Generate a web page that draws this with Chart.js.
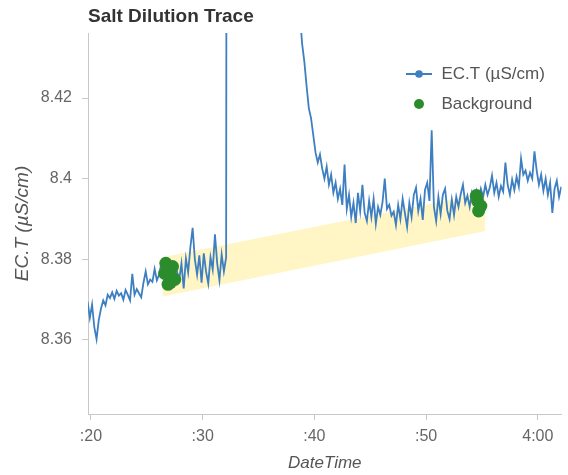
<!DOCTYPE html>
<html><head><meta charset="utf-8">
<script src="https://cdn.jsdelivr.net/npm/chart.js@4.4.1/dist/chart.umd.min.js"></script>
<style>html,body{margin:0;padding:0;background:#fff;}canvas{display:block;}</style>
</head><body>
<canvas id="c" width="568" height="475"></canvas>
<script>
const chartTitle = 'Salt Dilution Trace';
const xAxisTitle = 'DateTime';
const yAxisTitle = 'EC.T (µS/cm)';
const traceLabel = 'EC.T (µS/cm)';
const backgroundLabel = 'Background';

// trace sampled every 0.2 s starting at :19.7
const traceStart = 19.7;
const traceStep = 0.2;
const traceValues = [
  8.3695, 8.3655, 8.3688, 8.3632, 8.3602, 8.3650, 8.3678, 8.3698, 8.3686, 8.3712,
  8.3704, 8.3718, 8.3702, 8.3722, 8.3710, 8.3716, 8.3700, 8.3724, 8.3712, 8.3698,
  8.3764, 8.3712, 8.3726, 8.3716, 8.3706, 8.3742, 8.3770, 8.3738, 8.3750, 8.3744,
  8.3776, 8.3748, 8.3762, 8.3790, 8.3772, 8.3780, 8.3758, 8.3774, 8.3752, 8.3784,
  8.3770, 8.3750, 8.3790, 8.3728, 8.3802, 8.3768, 8.3830, 8.3878, 8.3800, 8.3762,
  8.3810, 8.3742, 8.3815, 8.3770, 8.3740, 8.3805, 8.3775, 8.3862, 8.3790, 8.3748,
  8.3812, 8.3770, 8.3805,
  8.95, 9.32, 9.55, 9.63, 9.60, 9.52, 9.42, 9.31, 9.20, 9.10,
  9.01, 8.93, 8.86, 8.80, 8.75, 8.71, 8.67, 8.64, 8.61, 8.59,
  8.57, 8.55, 8.535, 8.52, 8.51, 8.50, 8.492, 8.484, 8.476, 8.468,
  8.460, 8.452,
  8.4410, 8.4335, 8.4290, 8.4230, 8.4175, 8.4150, 8.4108, 8.4065, 8.4040, 8.4060,
  8.4025, 8.4000, 8.4030, 8.3985, 8.4010, 8.3965, 8.3990, 8.3950, 8.3975, 8.3935,
  8.4035,
  8.3925, 8.3960, 8.3905, 8.3940, 8.3890, 8.3965, 8.3920, 8.3985, 8.3915, 8.3895,
  8.3945, 8.3905, 8.3950, 8.3888, 8.3930, 8.3910, 8.3942, 8.4000, 8.3925, 8.3935,
  8.3908, 8.3918, 8.3885, 8.3935, 8.3900, 8.3950, 8.3915, 8.3880, 8.3940, 8.3905,
  8.3960, 8.3978, 8.3920, 8.3950, 8.3898, 8.3972, 8.3990, 8.3945, 8.4120, 8.3930,
  8.3895, 8.3955, 8.3912, 8.3960, 8.3975, 8.3920, 8.3900, 8.3948, 8.3910, 8.3955,
  8.3930, 8.3962, 8.3985, 8.3940, 8.3958, 8.3930, 8.3965, 8.3945, 8.3970, 8.3950,
  8.3975, 8.3955, 8.3985, 8.3960, 8.3978, 8.4008, 8.3965, 8.3990, 8.3955, 8.3982,
  8.3968, 8.4040, 8.3985, 8.3960, 8.3998, 8.3972, 8.4005, 8.3980, 8.4050, 8.4010,
  8.4020, 8.3995, 8.4015, 8.4000, 8.4068, 8.4020, 8.3985, 8.4010, 8.3970, 8.4000,
  8.3960, 8.3990, 8.3915, 8.3975, 8.3995, 8.3955, 8.3980
];

const bgTimes  = [26.6, 26.7, 26.9, 27.0, 27.1, 27.2, 27.3, 27.5, 54.5, 54.6, 54.7, 54.9];
const bgValues = [8.3765, 8.3790, 8.3738, 8.3775, 8.3742, 8.3758, 8.3782, 8.3750, 8.3958, 8.3945, 8.3920, 8.3932];

const bandTimes = [26.4, 55.3];
const bandUpper = [8.3805, 8.3965];
const bandLower = [8.3708, 8.3870];

const xTickValues = [20, 30, 40, 50, 60];
const xTickLabels = [':20', ':30', ':40', ':50', '4:00'];
const yTickValues = [8.36, 8.38, 8.40, 8.42];
const yTickLabels = ['8.36', '8.38', '8.4', '8.42'];

const BLUE = '#3d7fc1';
const GREEN = '#2b8c2b';
const YELLOW = 'rgba(255,236,150,0.55)';
const FONT = '"Liberation Sans", Arial, sans-serif';

const traceData = traceValues.map((v, i) => ({x: +(traceStart + i * traceStep).toFixed(2), y: v}));
const bgData = bgTimes.map((t, i) => ({x: t, y: bgValues[i]}));
const upperData = bandTimes.map((t, i) => ({x: t, y: bandUpper[i]}));
const lowerData = bandTimes.map((t, i) => ({x: t, y: bandLower[i]}));

function makeLineMarker() {
  const c = document.createElement('canvas');
  c.width = 26; c.height = 10;
  const g = c.getContext('2d');
  g.strokeStyle = BLUE; g.lineWidth = 2;
  g.beginPath(); g.moveTo(0, 5); g.lineTo(26, 5); g.stroke();
  g.fillStyle = BLUE;
  g.beginPath(); g.arc(13, 5, 3.8, 0, Math.PI * 2); g.fill();
  return c;
}
function makeDotMarker() {
  const c = document.createElement('canvas');
  c.width = 12; c.height = 12;
  const g = c.getContext('2d');
  g.fillStyle = GREEN;
  g.beginPath(); g.arc(6, 6, 5, 0, Math.PI * 2); g.fill();
  return c;
}
const lineMarker = makeLineMarker();
const dotMarker = makeDotMarker();

const legendPlacer = {
  id: 'legendPlacer',
  afterUpdate(chart) {
    const lg = chart.legend;
    if (!lg) return;
    const dx = 392 - lg.left, dy = 52.5 - lg.top;
    lg.left += dx; lg.right += dx; lg.top += dy; lg.bottom += dy;
  }
};

new Chart(document.getElementById('c'), {
  type: 'line',
  data: {
    datasets: [
      {label: traceLabel, data: traceData, borderColor: BLUE, backgroundColor: BLUE, borderWidth: 1.8,
       pointRadius: 0, tension: 0, fill: false, order: 2, clip: 0},
      {label: backgroundLabel, data: bgData, showLine: false, pointRadius: 6.5, pointBackgroundColor: GREEN,
       pointBorderWidth: 0, backgroundColor: GREEN, order: 1},
      {label: 'bandUpper', data: upperData, borderWidth: 0, pointRadius: 0, fill: '+1', backgroundColor: YELLOW, order: 3},
      {label: 'bandLower', data: lowerData, borderWidth: 0, pointRadius: 0, fill: false, order: 3}
    ]
  },
  options: {
    responsive: false,
    animation: false,
    events: [],
    layout: {padding: 0},
    plugins: {
      title: {display: true, text: chartTitle, align: 'start', fullSize: false,
              font: {family: FONT, size: 19, weight: 'bold'}, color: '#333', padding: {top: 5.6, bottom: 4.6}},
      legend: {
        position: 'chartArea', align: 'start',
        labels: {
          usePointStyle: true, pointStyleWidth: 28, padding: 13,
          font: {family: FONT, size: 17}, color: '#555',
          generateLabels: () => [
            {text: traceLabel, pointStyle: lineMarker, fontColor: '#555', fillStyle: BLUE, strokeStyle: BLUE, lineWidth: 0, hidden: false, datasetIndex: 0},
            {text: backgroundLabel, pointStyle: dotMarker, fontColor: '#555', fillStyle: GREEN, strokeStyle: GREEN, lineWidth: 0, hidden: false, datasetIndex: 1}
          ]
        }
      },
      tooltip: {enabled: false}
    },
    scales: {
      x: {
        type: 'linear', min: 19.735, max: 62.12,
        afterBuildTicks: s => { s.ticks = xTickValues.map(v => ({value: v})); },
        ticks: {callback: (v, i) => xTickLabels[i], font: {family: FONT, size: 16}, color: '#666',
                padding: 7, maxRotation: 0, autoSkip: false},
        grid: {display: true, drawOnChartArea: false, drawTicks: true, tickLength: 6, color: '#c8c8c8'},
        border: {display: true, color: '#c8c8c8'},
        title: {display: true, text: xAxisTitle, font: {family: FONT, size: 17, style: 'italic'}, color: '#555',
                padding: {top: 2, bottom: 1.8}},
        afterFit: s => { s.height = 61; }
      },
      y: {
        type: 'linear', min: 8.34165, max: 8.43612,
        afterBuildTicks: s => { s.ticks = yTickValues.map(v => ({value: v})); },
        ticks: {callback: (v, i) => yTickLabels[i], font: {family: FONT, size: 16}, color: '#666', padding: 10},
        grid: {display: true, drawOnChartArea: false, drawTicks: true, tickLength: 6, color: '#c8c8c8'},
        border: {display: true, color: '#c8c8c8'},
        title: {display: true, text: yAxisTitle, font: {family: FONT, size: 19, style: 'italic'}, color: '#555',
                padding: {top: 11.6, bottom: 0}},
        afterFit: s => { s.width = 88; }
      }
    }
  },
  plugins: [legendPlacer]
});
</script>
</body></html>
